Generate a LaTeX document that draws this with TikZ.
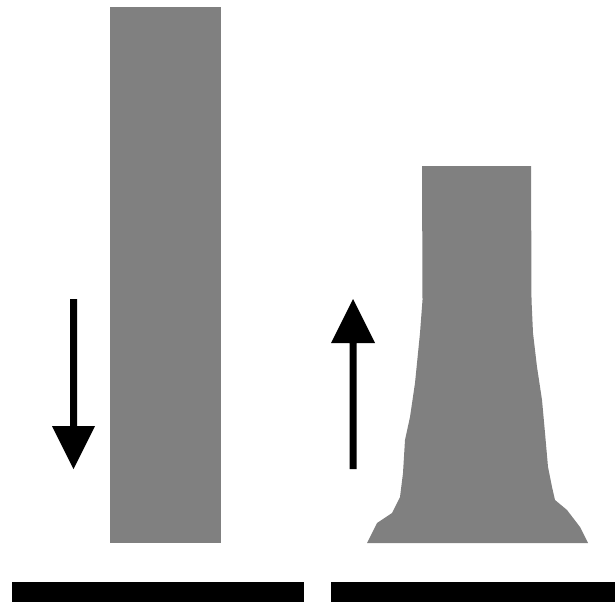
\documentclass[tikz,border=0pt]{standalone}
\definecolor{shapegray}{RGB}{128,128,128}
\tikzset{
  grayshape/.style={fill=shapegray, draw=none},
  blackshape/.style={fill=black, draw=none}
}
\begin{document}
\begin{tikzpicture}[x=1pt,y=-1pt]
\useasboundingbox (0,0) rectangle (615,602);
% left tall rectangle
\fill[grayshape] (110,7) rectangle (221,543);
% right flared shape
\fill[grayshape] (422,166) -- (531,166) -- (531.5,300) -- (533,333) -- (537,367) -- (542,400)
  -- (545,433) -- (548,467) -- (552,487) -- (555,500) -- (567,510) -- (580,527) -- (588,543)
  -- (367,543) -- (377,523) -- (392,513) -- (400,497) -- (403,473) -- (405,440) -- (410,417)
  -- (415,383) -- (420,333) -- (422.5,300) -- cycle;
% left arrow (down)
\fill[blackshape] (70,299) -- (77,299) -- (77,426) -- (95,426) -- (73.5,469) -- (52,426) -- (70,426) -- cycle;
% right arrow (up)
\fill[blackshape] (349.5,469) -- (356.5,469) -- (356.5,343) -- (375,343) -- (353,299) -- (331,343) -- (349.5,343) -- cycle;
% bottom bars
\fill[blackshape] (12,582) rectangle (304,602);
\fill[blackshape] (331,582) rectangle (615,602);
\end{tikzpicture}
\end{document}
